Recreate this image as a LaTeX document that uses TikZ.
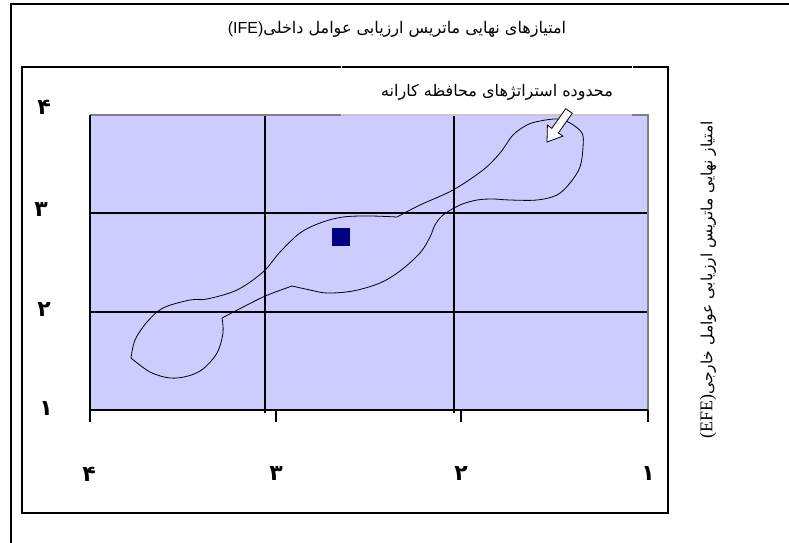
\documentclass[tikz,border=0pt]{standalone}
\usepackage{fontspec}
\TeXXeTstate=1
\newfontfamily\arabicfont[Script=Arabic]{DejaVu Sans}
\newfontfamily\latinsans{Liberation Sans}
\newfontfamily\latinserif{Liberation Serif}
\definecolor{plotfill}{HTML}{CCCCFF}
\definecolor{marker}{HTML}{000080}
\definecolor{bordergrey}{HTML}{808080}
\definecolor{lightgrey}{HTML}{C8C8C8}
\tikzset{
  frameline/.style={draw=black, line width=1.3pt},
  gridline/.style={draw=black, line width=1.5pt},
  blob/.style={draw=black, line width=0.8pt},
  digit/.style={font=\arabicfont\bfseries\fontsize{22}{24}\selectfont, inner sep=0pt},
  persian/.style={inner sep=1pt}
}
\begin{document}
\begin{tikzpicture}[x=1pt,y=-1pt]
\useasboundingbox (0,0) rectangle (789,542);
% outer frame
\draw[frameline] (11,545) -- (11,4) -- (792,4);
% inner frame
\draw[frameline] (22,67) rectangle (668,513);
\draw[white, line width=1.5pt] (340.5,67) -- (342,67) (631.5,67) -- (633,67);
% plot area
\fill[plotfill] (90,115) rectangle (648,410);
\draw[gridline] (90,213) -- (648,213) (90,312) -- (648,312);
\draw[gridline] (265,115) -- (265,413) (454,115) -- (454,413);
\draw[draw=bordergrey, line width=1.5pt] (90,115) -- (341,115) (632,115) -- (648,115) -- (648,410);
\draw[draw=lightgrey, line width=1.2pt] (341,115) -- (632,115);
\draw[gridline] (90,115) -- (90,422) (90,410) -- (648,410);
\draw[gridline] (276,410) -- (276,422) (461,410) -- (461,422) (648,410) -- (648,422);
% blob
\draw[blob]
  plot[smooth, tension=0.55] coordinates {(131,358) (135,340) (147,322) (163,308) (190,300) (207,299) (237,290) (263,272) (280,252) (300,233) (320,223) (343,217) (370,216) (397,217)}
  plot[smooth, tension=0.55] coordinates {(397,217) (420,205) (453,190) (483,170) (500,153) (513,135) (527,125) (540,121) (557,119) (570,123) (582,133) (583,147) (580,167) (570,183) (557,195) (537,200) (510,200) (493,199) (477,200) (460,205) (443,215) (435,225) (430,237) (420,253) (400,271) (380,283) (353,291) (327,293) (310,290) (292,286)}
  plot[smooth, tension=0.4] coordinates {(292,286) (263,297) (222,318)}
  plot[smooth, tension=0.55] coordinates {(222,318) (223,333) (217,353) (203,369) (188,376) (170,378) (150,372) (131,358)};
% marker
\fill[marker] (332,228) rectangle (350,246);
% block arrow (tail at (569,111), tip at (547,142))
\draw[fill=white, line width=0.8pt]
  (572.3,113.3) -- (558.4,132.9) -- (562.9,136.1) -- (547,142) -- (547.4,125.1) -- (551.8,128.3) -- (565.7,108.7) -- cycle;
% texts
\node[persian] (title) at (397,29) {\arabicfont\fontsize{16}{18}\selectfont\beginR امتیازهای نهایی ماتریس ارزیابی عوامل داخلی\beginL{\latinsans (IFE)}\endL\endR};
\node[persian] (zone) at (497,92) {\arabicfont\fontsize{16}{18}\selectfont\beginR محدوده استراتژهای محافظه کارانه\endR};
\node[persian, rotate=90] (efe) at (708,280) {\arabicfont\fontsize{15.5}{18}\selectfont\beginR امتیاز نهایی ماتریس ارزیابی عوامل خارجی\beginL{\latinserif\fontsize{18}{20}\selectfont (EFE)}\endL\endR};
% y labels
\node[digit] (y4) at (44,107) {۴};
\node[digit] (y3) at (41,210) {۳};
\node[digit] (y2) at (44,310) {۲};
\node[digit] (y1) at (46,409) {۱};
% x labels
\node[digit] (x4) at (89,474) {۴};
\node[digit] (x3) at (276,474) {۳};
\node[digit] (x2) at (461,474) {۲};
\node[digit] (x1) at (648,474) {۱};
\end{tikzpicture}
\end{document}
